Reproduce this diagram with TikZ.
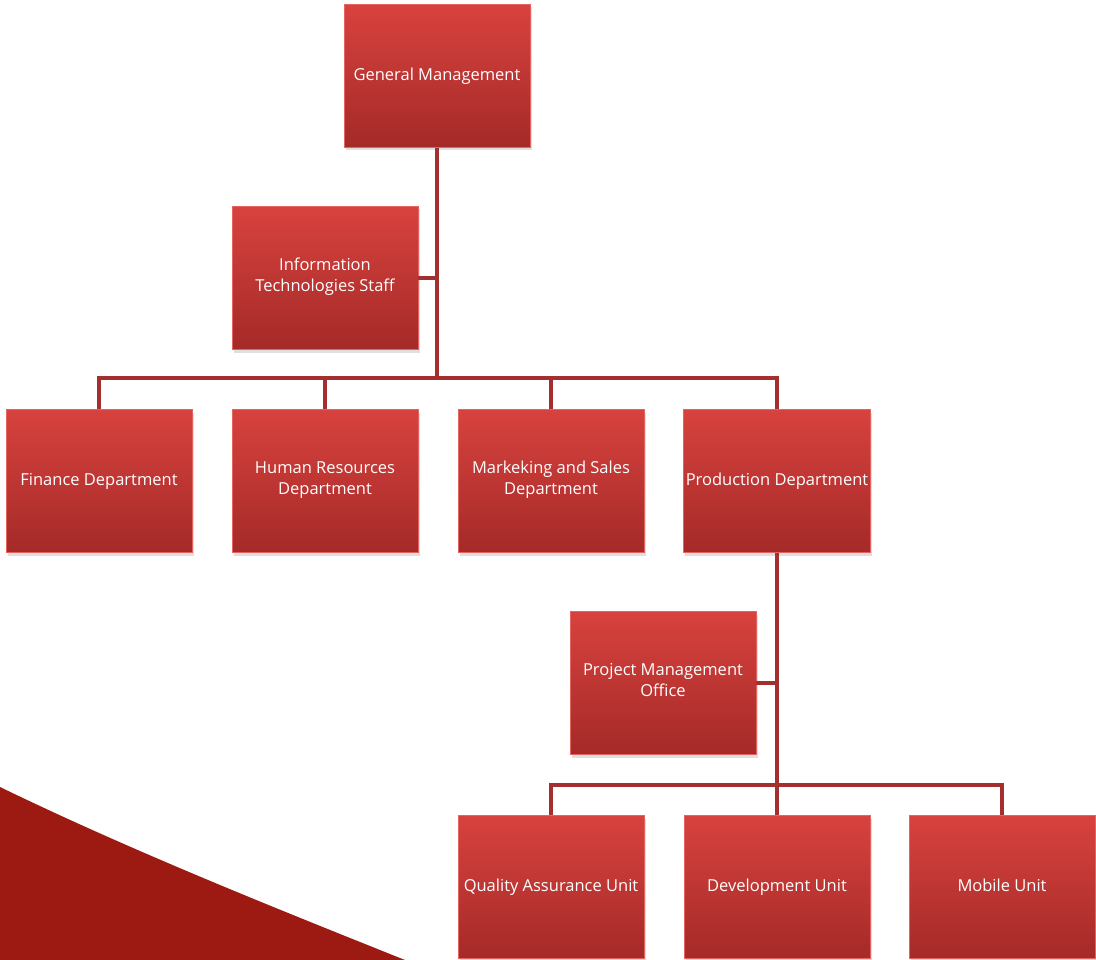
\documentclass[tikz,border=0pt]{standalone}
\usepackage{fontspec}
\setmainfont{Open Sans}
\usetikzlibrary{shadows}
\definecolor{boxtop}{RGB}{216,66,62}
\definecolor{boxbot}{RGB}{164,42,40}
\definecolor{boxrim}{RGB}{228,100,96}
\definecolor{linkred}{RGB}{163,48,47}
\definecolor{swoosh}{RGB}{157,26,18}
\begin{document}
\begin{tikzpicture}[x=1pt,y=-1pt,
  unit/.style={rectangle, minimum width=186pt, minimum height=143pt, inner sep=2pt,
    top color=boxtop, bottom color=boxbot, draw=boxrim, line width=0.8pt,
    drop shadow={shadow xshift=1.5pt, shadow yshift=-3pt, opacity=0.25},
    text=white, align=center, font=\fontsize{16.5}{21}\selectfont,
    execute at begin node=\strut, execute at end node=\strut},
  link/.style={draw=linkred, line width=3.5pt}]
\useasboundingbox (0,0) rectangle (1096,960);
\fill[swoosh] (0,787) .. controls (130,850) and (270,906) .. (405,960) -- (0,960) -- cycle;
% top level
\node[unit] (gm) at (437,76) {General Management};
\node[unit] (its) at (325,278) {Information\\Technologies Staff};
% departments
\node[unit] (fin) at (99,481) {Finance Department};
\node[unit] (hr) at (325,481) {Human Resources\\Department};
\node[unit] (mkt) at (551,481) {Markeking and Sales\\Department};
\node[unit] (prod) at (777,481) {Production Department};
% production units
\node[unit] (pmo) at (663,683) {Project Management\\Office};
\node[unit] (qa) at (551,887) {Quality Assurance Unit};
\node[unit] (dev) at (777,887) {Development Unit};
\node[unit] (mob) at (1002,887) {Mobile Unit};
\coordinate (bus1) at (437,378);
\coordinate (bus2) at (777,785);
\begin{scope}[on background layer/.try]
\draw[link] (gm.south) -- (bus1);
\draw[link] (its.east) -- (its.east -| gm.south);
\draw[link] (fin.north) |- (bus1);
\draw[link] (hr.north) |- (bus1);
\draw[link] (mkt.north) |- (bus1);
\draw[link] (prod.north) |- (bus1);
\draw[link] (prod.south) -- (bus2);
\draw[link] (pmo.east) -- (pmo.east -| prod.south);
\draw[link] (qa.north) |- (bus2);
\draw[link] (dev.north) -- (bus2);
\draw[link] (mob.north) |- (bus2);
\end{scope}
\end{tikzpicture}
\end{document}
